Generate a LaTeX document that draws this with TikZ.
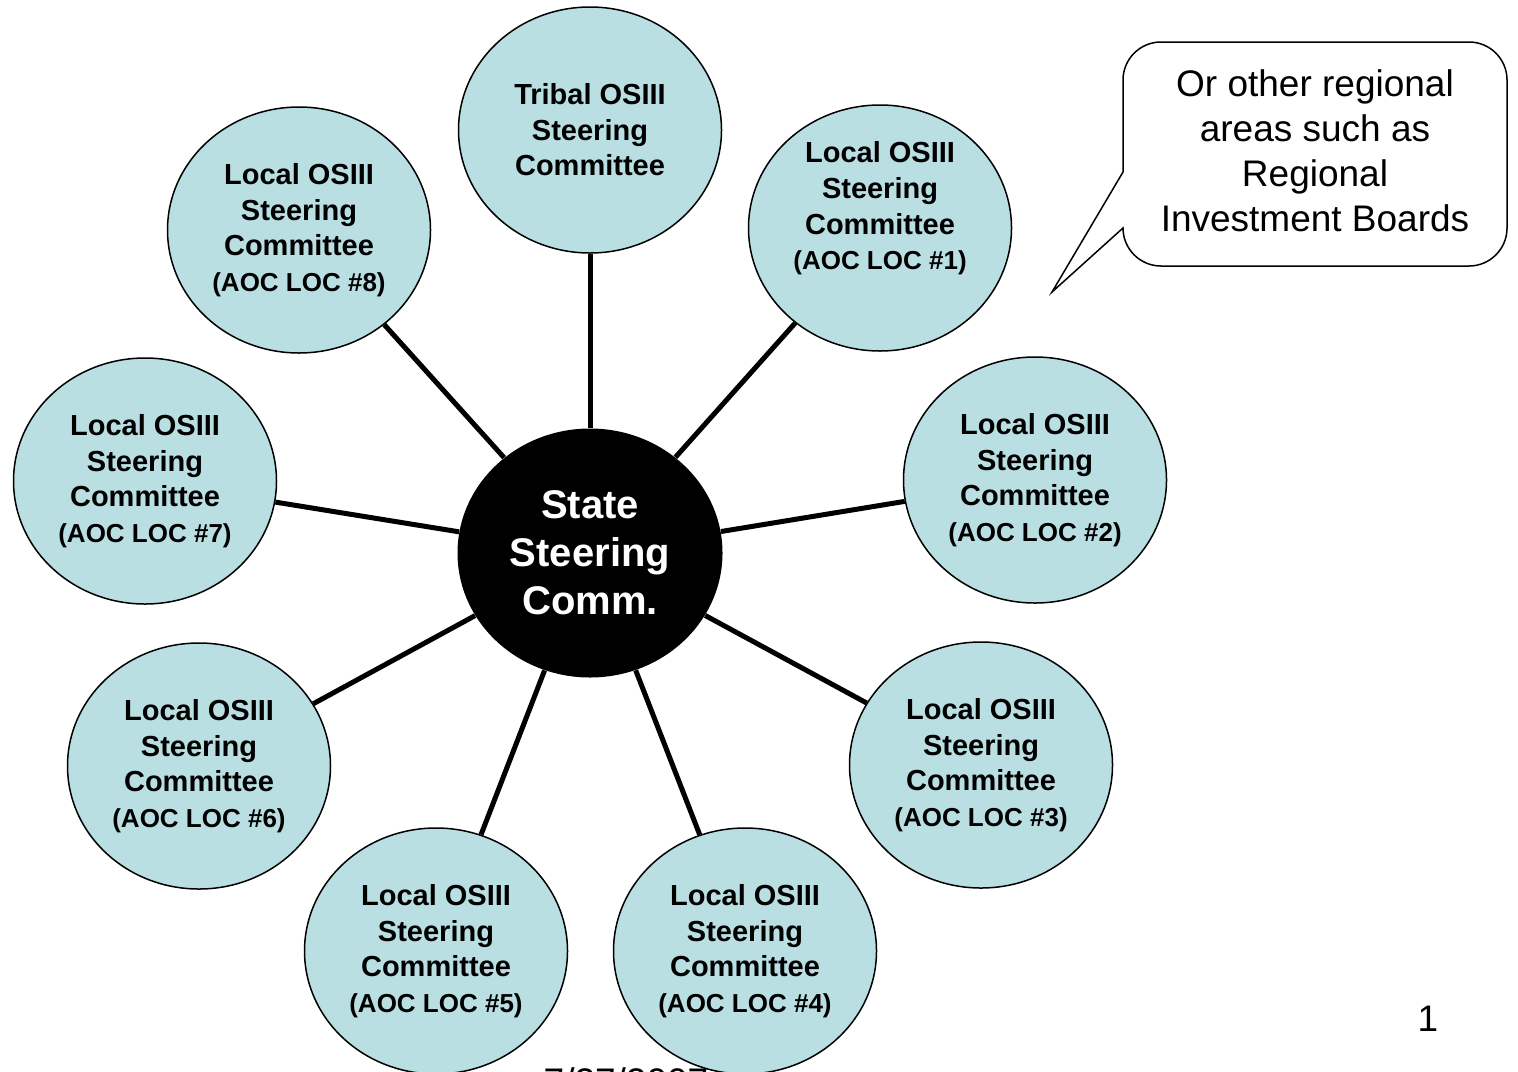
\documentclass[tikz,border=0pt]{standalone}
\usepackage{fontspec}
\setmainfont{Liberation Sans}
\usetikzlibrary{shapes.geometric}
\definecolor{clubfill}{RGB}{185,223,227}
\tikzset{
    localcomm/.style={ellipse, draw=black, line width=0.75pt, fill=clubfill,
        minimum width=131.5pt, minimum height=123pt, inner sep=0pt, align=center,
        font=\fontsize{14.5pt}{17.8pt}\selectfont\bfseries},
    statecomm/.style={ellipse, fill=black, text=white,
        minimum width=132.5pt, minimum height=124.5pt, inner sep=0pt, align=center,
        font=\fontsize{20pt}{24pt}\selectfont\bfseries},
    spoke/.style={line width=2.5pt},
    note/.style={align=center, font=\fontsize{18.5pt}{22.5pt}\selectfont}
}
\newcommand{\aocloc}[1]{{\fontsize{13pt}{15.5pt}\selectfont (AOC LOC \##1)}}

\begin{document}
\begin{tikzpicture}[x=0.5pt, y=-0.5pt]
    \useasboundingbox (0,0) rectangle (1518,1071);
    \clip (0,0) rectangle (1518,1071);

    % footer
    \node[note, anchor=base] (date) at (626,1094) {7/27/2007};
    \node[note] (pageno) at (1428,1019) {1};

    % committees
    \node[statecomm] (state) at (590,553) {State\\Steering\\Comm.};
    \node[localcomm] (tribal) at (590,130) {Tribal OSIII\\Steering\\Committee};
    \node[localcomm] (loc1) at (880,228) {Local OSIII\\Steering\\Committee\\\aocloc{1}\\[4.5pt]};
    \node[localcomm] (loc2) at (1035,480) {Local OSIII\\Steering\\Committee\\\aocloc{2}};
    \node[localcomm] (loc3) at (981,765) {Local OSIII\\Steering\\Committee\\\aocloc{3}};
    \node[localcomm] (loc4) at (745,951) {Local OSIII\\Steering\\Committee\\\aocloc{4}};
    \node[localcomm] (loc5) at (436,951) {Local OSIII\\Steering\\Committee\\\aocloc{5}};
    \node[localcomm] (loc6) at (199,766) {Local OSIII\\Steering\\Committee\\\aocloc{6}};
    \node[localcomm] (loc7) at (145,481) {Local OSIII\\Steering\\Committee\\\aocloc{7}};
    \node[localcomm] (loc8) at (299,230) {Local OSIII\\Steering\\Committee\\\aocloc{8}};

    % spokes
    \draw[spoke] (state) -- (tribal);
    \draw[spoke] (state) -- (loc1);
    \draw[spoke] (state) -- (loc2);
    \draw[spoke] (state) -- (loc3);
    \draw[spoke] (state) -- (loc4);
    \draw[spoke] (state) -- (loc5);
    \draw[spoke] (state) -- (loc6);
    \draw[spoke] (state) -- (loc7);
    \draw[spoke] (state) -- (loc8);

    % callout
    \draw[line width=0.75pt, fill=white] (1123,172) -- (1123,80)
        arc[start angle=180, end angle=90, radius=19pt] -- (1469,42)
        arc[start angle=90, end angle=0, radius=19pt] -- (1507,228)
        arc[start angle=0, end angle=-90, radius=19pt] -- (1161,266)
        arc[start angle=-90, end angle=-180, radius=19pt] -- (1052,292) -- cycle;
    \node[note] (regions) at (1315,151) {Or other regional\\areas such as\\Regional\\Investment Boards};
\end{tikzpicture}
\end{document}
